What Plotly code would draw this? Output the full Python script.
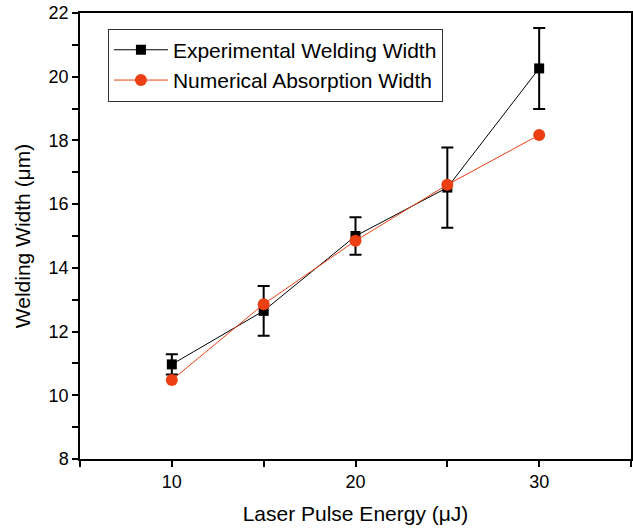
import plotly.graph_objects as go

energy = [10, 15, 20, 25, 30]
exp_width = [10.97, 12.65, 15.0, 16.52, 20.26]
exp_err = [0.32, 0.78, 0.59, 1.26, 1.27]
num_width = [10.48, 12.86, 14.85, 16.61, 18.17]

x_tickvals = [5, 10, 15, 20, 25, 30, 35]
x_ticktext = ["", "10", "", "20", "", "30", ""]
y_tickvals = list(range(8, 23))
y_ticktext = [str(v) if v % 2 == 0 else "" for v in y_tickvals]

RED = "#EC3F14"

fig = go.Figure()
fig.add_trace(go.Scatter(
    x=energy, y=exp_width, mode="lines+markers",
    name="Experimental Welding Width",
    line=dict(color="black", width=1),
    marker=dict(symbol="square", size=10, color="black"),
    error_y=dict(type="data", array=exp_err, visible=True, color="black", thickness=2, width=6),
))
fig.add_trace(go.Scatter(
    x=energy, y=num_width, mode="lines+markers",
    name="Numerical Absorption Width",
    line=dict(color=RED, width=1),
    marker=dict(symbol="circle", size=12, color=RED),
))

fig.update_layout(
    width=633, height=530,
    margin=dict(l=80, r=2, t=13, b=71, autoexpand=False),
    paper_bgcolor="white", plot_bgcolor="white",
    font=dict(family="Liberation Sans, Arial, sans-serif", color="black", size=17),
    showlegend=True,
    legend=dict(
        x=0.0507, y=0.965, xanchor="left", yanchor="top",
        bgcolor="white", bordercolor="#333", borderwidth=1,
        font=dict(size=21), itemwidth=54, tracegroupgap=0,
    ),
    xaxis=dict(
        range=[5, 35], tickvals=x_tickvals, ticktext=x_ticktext,
        ticks="outside", ticklen=6, tickwidth=1.5, tickcolor="black",
        showline=True, linecolor="black", linewidth=1.5, mirror=True,
        showgrid=False, zeroline=False, automargin=False,
        title=dict(text="Laser Pulse Energy (μJ)", font=dict(size=21), standoff=15),
        tickfont=dict(size=18),
    ),
    yaxis=dict(
        range=[8, 22], tickvals=y_tickvals, ticktext=y_ticktext,
        ticks="outside", ticklen=6, tickwidth=1.5, tickcolor="black",
        showline=True, linecolor="black", linewidth=1.5, mirror=True,
        showgrid=False, zeroline=False, automargin=False,
        title=dict(text="Welding Width (μm)", font=dict(size=21), standoff=12),
        tickfont=dict(size=18),
    ),
)

fig.write_html("out.html", config={"displayModeBar": False},
               post_script="document.body.style.margin='0';")
